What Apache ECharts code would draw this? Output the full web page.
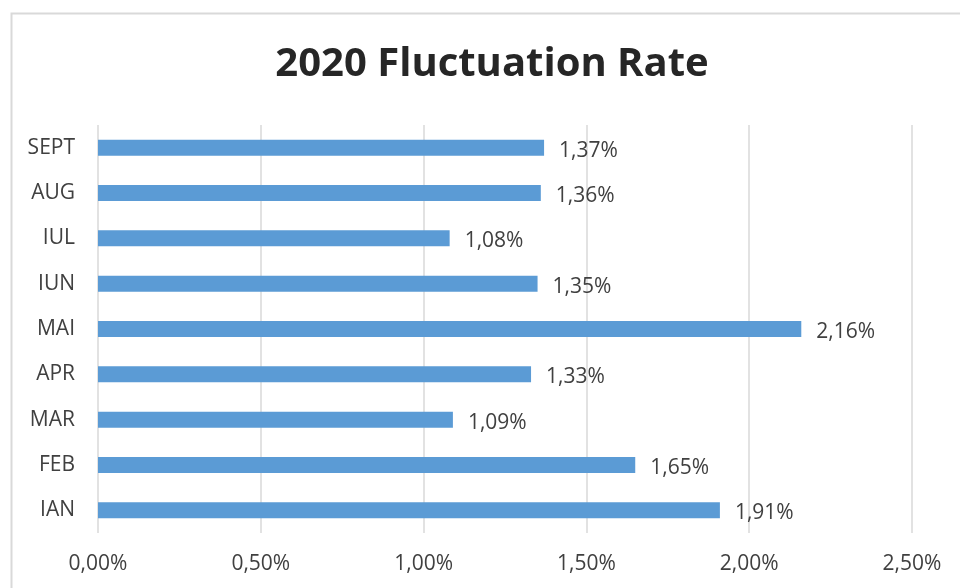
<!DOCTYPE html>
<html>
<head>
    <meta charset="utf-8">
    <title>2020 Fluctuation Rate</title>
    <script src="https://cdn.jsdelivr.net/npm/echarts@6/dist/echarts.min.js"></script>
    <style>
        html, body { margin: 0; padding: 0; background: #fff; }
        #main { width: 960px; height: 588px; }
    </style>
</head>
<body>
<div id="main"></div>
<script type="text/javascript">
    // data (percent)
    var months = ['IAN', 'FEB', 'MAR', 'APR', 'MAI', 'IUN', 'IUL', 'AUG', 'SEPT'];
    var rates = [1.91, 1.65, 1.09, 1.33, 2.16, 1.35, 1.08, 1.36, 1.37];
    var titleText = '2020 Fluctuation Rate';

    function pct(v) {
        return v.toFixed(2).replace('.', ',') + '%';
    }

    var myChart = echarts.init(document.getElementById('main'));
    var option = {
        animation: false,
        backgroundColor: '#fff',
        textStyle: { fontFamily: 'Open Sans' },
        graphic: [{
            type: 'rect',
            shape: { x: 11.5, y: 13.5, width: 1000, height: 1000 },
            style: { fill: 'none', stroke: '#d9d9d9', lineWidth: 2 },
            silent: true
        }],
        title: {
            text: titleText,
            left: 487,
            top: 40,
            textAlign: 'center',
            textStyle: {
                fontFamily: 'Open Sans',
                fontSize: 40,
                fontWeight: 'bold',
                color: '#262626'
            }
        },
        grid: {
            left: 98,
            right: 48,
            top: 125,
            bottom: 55,
            containLabel: false
        },
        xAxis: {
            type: 'value',
            min: 0,
            max: 2.5,
            interval: 0.5,
            axisLine: { show: false },
            axisTick: { show: false },
            splitLine: { lineStyle: { color: '#d9d9d9', width: 1.5 } },
            axisLabel: {
                margin: 21,
                fontSize: 21,
                color: '#404040',
                formatter: function (v) { return pct(v); }
            }
        },
        yAxis: {
            type: 'category',
            data: months,
            axisLine: { show: false },
            axisTick: { show: false },
            axisLabel: {
                margin: 23,
                fontSize: 21,
                color: '#404040'
            }
        },
        series: [{
            type: 'bar',
            data: rates,
            barWidth: 16,
            itemStyle: { color: '#5b9bd5' },
            label: {
                show: true,
                position: 'right',
                distance: 15,
                offset: [0, 3],
                fontSize: 21,
                color: '#404040',
                formatter: function (p) { return pct(p.value); }
            }
        }]
    };
    myChart.setOption(option);
</script>
</body>
</html>
